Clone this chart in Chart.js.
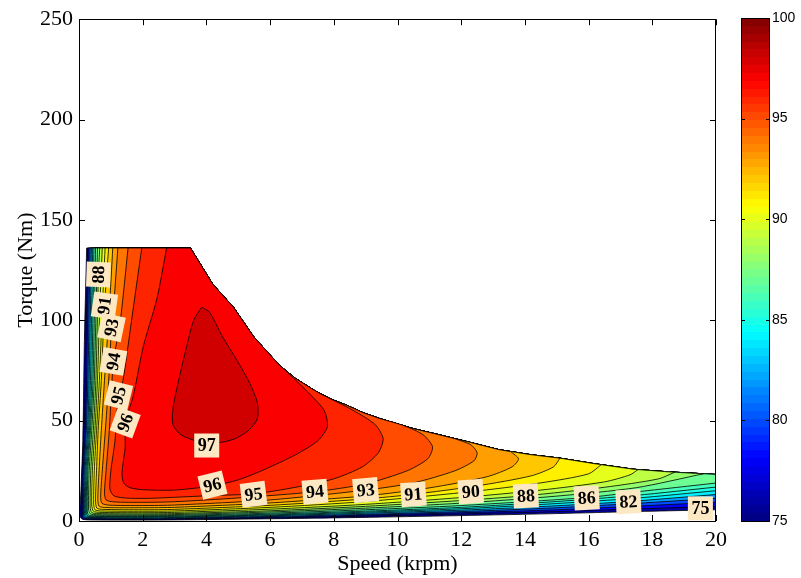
<!DOCTYPE html>
<html>
<head>
<meta charset="utf-8">
<script src="https://cdn.jsdelivr.net/npm/chart.js@4.4.0/dist/chart.umd.min.js"></script>
<style>
  html, body { margin: 0; padding: 0; background: #fff; }
  #wrap { position: relative; width: 801px; height: 578px; }
  #map { position: absolute; left: 0; top: 0; }
  #bar { position: absolute; left: 725px; top: 0; }
</style>
</head>
<body>
<div id="wrap">
  <canvas id="map" width="801" height="578"></canvas>
  <canvas id="bar" width="76" height="578"></canvas>
</div>
<script>
// operating limit (speed krpm, torque Nm)
const envelope = [[3.5,136],[4.2,118],[4.85,106.5],[5.5,91.5],[6.3,77.5],[6.8,71],[7.4,65],[7.9,60.8],[8.4,57.7],[8.9,54.1],[9.45,51],[10.5,46],[11.3,43],
  [12.2,39.5],[13.2,35.5],[14.2,33],[15.1,31.3],[16.2,28.5],[17.4,25.8],[18.5,24.5],[20,23.2]];

// efficiency contour lines (%), each from the top edge round to where it leaves the map
const c75 = [[0.24,136],[0.17,90],[0.12,40],[0.06,15],[0.03,6],[0.04,2],[0.12,0.8],[0.5,0.5],[2,0.45],[3,0.55],[6,1.1],[9,1.8],[12,2.7],[15,3.7],[17.5,4.7],[20,5.6]];
const c76 = [[0.27,136],[0.2,70],[0.16,45],[0.1,25],[0.08,2.2],[0.12,1.1],[0.2,0.9],[2,0.8],[3,0.9],[6,1.5],[9,2.4],[12,3.5],[15,4.7],[17.5,6.0],[20,7.3]];
const c78 = [[0.31,136],[0.24,70],[0.2,45],[0.13,25],[0.11,2.6],[0.15,1.4],[0.25,1.15],[2,1.05],[3,1.15],[6,1.8],[9,2.9],[12,4.1],[15,5.6],[17.5,7.4],[20,9.4]];
const c80 = [[0.35,136],[0.28,70],[0.23,45],[0.16,25],[0.14,3],[0.18,1.7],[0.3,1.4],[2,1.3],[3,1.4],[6,2.2],[9,3.3],[12,4.7],[15,6.6],[17.5,8.8],[20,11.3]];
const c82 = [[0.39,136],[0.32,70],[0.27,45],[0.19,25],[0.17,3.5],[0.21,2.0],[0.35,1.7],[2,1.6],[3,1.75],[6,2.6],[9,3.9],[12,5.4],[15,7.6],[17.25,9.7],[20,13.2]];
const c84 = [[0.43,136],[0.36,70],[0.3,45],[0.22,25],[0.2,4],[0.24,2.3],[0.4,2.0],[2,1.9],[3,2.05],[6,3.0],[9,4.4],[12,6.1],[15,8.7],[17.5,11.4],[20,15.1]];
const c85 = [[0.47,136],[0.4,70],[0.33,45],[0.25,25],[0.23,4.5],[0.27,2.6],[0.45,2.3],[2,2.2],[3,2.35],[6,3.4],[9,4.9],[12,6.8],[15,9.7],[17.5,12.8],[20,16.9]];
const c86 = [[0.52,136],[0.44,70],[0.36,45],[0.28,25],[0.26,5],[0.3,3.0],[0.5,2.65],[2,2.6],[3,2.75],[6,3.9],[9,5.6],[12,7.7],[15.94,11.7],[17.5,14.5],[20,18.9]];
const c87 = [[0.58,136],[0.48,70],[0.4,45],[0.32,25],[0.3,6],[0.35,3.6],[0.55,3.15],[2,3.05],[3,3.2],[6,4.5],[9,6.4],[12,8.9],[15,12.4],[17.5,16.6],[19.6,23.5]];
const c88 = [[0.65,136],[0.61,123],[0.53,70],[0.45,45],[0.37,25],[0.35,7],[0.4,4.2],[0.6,3.7],[2,3.55],[3,3.7],[6,5.1],[9,7.3],[12,10.2],[14.03,12.6],[16.5,16.8],[18.2,21],[18.7,24.3]];
const c89 = [[0.73,136],[0.65,105],[0.58,70],[0.5,45],[0.42,25],[0.4,8],[0.45,4.9],[0.65,4.3],[2,4.15],[3,4.3],[6,5.9],[9,8.3],[12,11.7],[14.5,15.4],[16.5,19.5],[17.3,23],[17.55,25.6]];
const c90 = [[0.82,136],[0.73,105],[0.64,70],[0.55,45],[0.48,25],[0.46,9],[0.5,5.6],[0.7,5.0],[2,4.85],[3,5.0],[6,6.8],[9,9.7],[12.3,14.6],[14.5,19],[16,23.5],[16.4,28.1]];
const c91 = [[0.93,136],[0.8,107.4],[0.7,70],[0.6,45],[0.55,25],[0.52,10],[0.56,6.4],[0.75,5.8],[2,5.6],[3,5.8],[6,7.8],[9,11],[10.5,13.3],[12.5,17.5],[14.2,22.5],[14.9,27],[15.1,31.3]];
const c92 = [[1.06,136],[0.95,105],[0.8,70],[0.7,45],[0.63,25],[0.59,11],[0.63,7.4],[0.85,6.7],[2,6.6],[3,6.8],[6,9],[9,12.5],[11,16.5],[12.8,22],[13.6,27],[13.8,31],[13.55,34.6]];
const c93 = [[1.22,136],[1.1,110],[1.02,96.4],[0.95,75],[0.85,50],[0.73,25],[0.68,12],[0.72,8.8],[0.95,7.9],[2,7.7],[3,7.95],[6,10.5],[9.0,15.4],[10.5,19],[11.8,25],[12.4,30],[12.5,34],[12.3,38],[11.8,41]];
const c94 = [[1.54,136],[1.3,100],[1.08,79.5],[1.02,65],[0.95,45],[0.85,25],[0.8,14],[0.85,10.5],[1.1,9.5],[2,9.3],[3,9.6],[5,11.5],[7.41,14.6],[9,18.5],[10.3,25],[10.95,31],[11.1,37],[10.8,43],[10.2,47.5],[9.5,50.8]];
const c95 = [[1.97,136],[1.65,100],[1.38,70],[1.24,62.6],[1.13,40],[1.0,25],[0.97,16],[1.1,12.5],[1.5,11.4],[2.2,11.3],[3,11.8],[4.2,12.7],[5.48,13.5],[6.8,16.8],[8.0,21],[8.9,27],[9.4,34],[9.55,41],[9.3,48],[8.6,55.2],[7.6,63.2]];
const c96 = [[2.75,136],[2.45,111],[2.02,87],[1.7,62],[1.45,49],[1.45,37],[1.35,24],[1.4,19],[1.6,16.6],[2.0,15.6],[3.0,15.4],[4.19,17.5],[5.0,20.5],[5.8,25.5],[6.8,33],[7.5,40],[7.8,47],[7.7,55],[7.2,64],[6.45,75.5]];
const c97 = [[3.85,106.5],[4.1,104],[4.5,92],[5.0,79],[5.35,69],[5.6,59],[5.6,51],[5.35,45.5],[4.9,41],[4.3,38.8],[3.7,39.8],[3.2,43],[2.95,48],[2.95,56],[3.1,68],[3.35,85],[3.6,100],[3.85,106.5]];

const levels = [75, 76, 78, 80, 82, 84, 85, 86, 87, 88, 89, 90, 91, 92, 93, 94, 95, 96, 97];
const contourLines = [c75, c76, c78, c80, c82, c84, c85, c86, c87, c88, c89, c90, c91, c92, c93, c94, c95, c96, c97];

// inline contour labels
const labelText   = ['88','91','93','94','95','96','97','96','95','94','93','91','90','88','86','82','75'];
const labelSpeed  = [0.61, 0.8, 1.02, 1.08, 1.24, 1.45, 4.01, 4.19, 5.48, 7.41, 9.0, 10.5, 12.3, 14.03, 15.94, 17.25, 19.51];
const labelTorque = [122.8, 107.4, 96.4, 79.5, 62.6, 49, 37.6, 17.9, 13.3, 14.6, 15.4, 13.3, 14.6, 12.5, 11.5, 9.6, 6.3];
const labelAngle  = [-88, -82, -78, -80, -76, -70, 0, -14, -7, -5, -5, -4, -4, -3, -3, -3, 0];

const colorMin = 75, colorMax = 100;
const colorTicks = [75, 80, 85, 90, 95, 100];

// matlab style jet colormap
function jet(t) {
  const c = v => Math.round(255 * Math.max(0, Math.min(1, v)));
  return 'rgb(' + c(1.5 - Math.abs(4 * t - 3)) + ',' + c(1.5 - Math.abs(4 * t - 2)) + ',' + c(1.5 - Math.abs(4 * t - 1)) + ')';
}

// close a contour along the operating limit so it can be filled.
// doubled points keep the corners sharp when the line is smoothed
function closeShape(line) {
  const first = line[0], last = line[line.length - 1];
  if (first[0] === last[0] && first[1] === last[1]) return line;
  const back = envelope.filter(p => p[0] < last[0] || (p[0] === last[0] && p[1] > last[1])).reverse();
  const edge = [];
  back.forEach(p => edge.push(p, p));
  return [first].concat(line, [last], edge, [first]);
}

const datasets = levels.map((lv, i) => {
  const upper = i < levels.length - 1 ? levels[i + 1] : 98;
  return {
    data: closeShape(contourLines[i]).map(p => ({ x: p[0], y: p[1] })),
    showLine: true,
    fill: 'shape',
    backgroundColor: jet((upper - colorMin) / (colorMax - colorMin)),
    borderColor: '#000',
    borderWidth: 0.8,
    pointRadius: 0,
    tension: 0.25,
    order: 100 - lv
  };
});

const serif = 'Liberation Serif';

// box with inward tick marks, matlab look
const framePlugin = {
  id: 'frame',
  afterDraw(chart) {
    const { ctx, chartArea: a, scales } = chart;
    ctx.save();
    ctx.strokeStyle = '#000';
    ctx.lineWidth = 1;
    ctx.strokeRect(Math.round(a.left) + 0.5, Math.round(a.top) + 0.5, Math.round(a.right - a.left) - 1, Math.round(a.bottom - a.top));
    ctx.beginPath();
    scales.x.ticks.forEach(t => {
      const px = Math.round(scales.x.getPixelForValue(t.value)) + 0.5;
      ctx.moveTo(px, a.bottom); ctx.lineTo(px, a.bottom - 6);
      ctx.moveTo(px, a.top); ctx.lineTo(px, a.top + 6);
    });
    scales.y.ticks.forEach(t => {
      const py = Math.round(scales.y.getPixelForValue(t.value)) + 0.5;
      ctx.moveTo(a.left, py); ctx.lineTo(a.left + 6, py);
      ctx.moveTo(a.right, py); ctx.lineTo(a.right - 6, py);
    });
    ctx.stroke();
    ctx.restore();
  }
};

const labelPlugin = {
  id: 'clabels',
  afterDatasetsDraw(chart) {
    const { ctx, scales: { x, y } } = chart;
    ctx.save();
    ctx.font = 'bold 18px "' + serif + '"';
    ctx.textAlign = 'center';
    ctx.textBaseline = 'middle';
    labelText.forEach((t, i) => {
      ctx.save();
      ctx.translate(x.getPixelForValue(labelSpeed[i]), y.getPixelForValue(labelTorque[i]));
      ctx.rotate(labelAngle[i] * Math.PI / 180);
      ctx.fillStyle = '#fde8c4';
      ctx.fillRect(-12.5, -12, 25, 24);
      ctx.fillStyle = '#000';
      ctx.fillText(t, 0, 1);
      ctx.restore();
    });
    ctx.restore();
  }
};

new Chart(document.getElementById('map'), {
  type: 'scatter',
  data: { datasets: datasets },
  options: {
    responsive: false,
    animation: false,
    layout: { padding: { left: 13, right: 85, top: 18, bottom: 0 } },
    plugins: { legend: { display: false }, tooltip: { enabled: false } },
    scales: {
      x: {
        type: 'linear', min: 0, max: 20,
        ticks: { stepSize: 2, padding: 6, color: '#000', font: { family: serif, size: 22 } },
        grid: { display: false, drawTicks: false },
        border: { display: false },
        title: { display: true, text: 'Speed (krpm)', color: '#000', font: { family: serif, size: 22 }, padding: { top: 0, bottom: 1 } },
        afterFit: s => { s.height = 57; }
      },
      y: {
        type: 'linear', min: 0, max: 250,
        ticks: { stepSize: 50, padding: 6, color: '#000', font: { family: serif, size: 22 } },
        grid: { display: false, drawTicks: false },
        border: { display: false },
        title: { display: true, text: 'Torque (Nm)', color: '#000', font: { family: serif, size: 22 }, padding: 0 },
        afterFit: s => { s.width = 66; }
      }
    }
  },
  plugins: [labelPlugin, framePlugin]
});

// colour bar
const barFrame = {
  id: 'barFrame',
  afterDraw(chart) {
    const { ctx, chartArea: a, scales: { y } } = chart;
    ctx.save();
    ctx.strokeStyle = '#000';
    ctx.lineWidth = 1;
    ctx.strokeRect(Math.round(a.left) + 0.5, Math.round(a.top) + 0.5, Math.round(a.right - a.left) - 1, Math.round(a.bottom - a.top));
    ctx.beginPath();
    colorTicks.slice(1, -1).forEach(v => {
      const py = Math.round(y.getPixelForValue(v)) + 0.5;
      ctx.moveTo(a.left, py); ctx.lineTo(a.left + 4, py);
      ctx.moveTo(a.right, py); ctx.lineTo(a.right - 4, py);
    });
    ctx.stroke();
    ctx.restore();
  }
};

new Chart(document.getElementById('bar'), {
  type: 'bar',
  data: {
    labels: [''],
    datasets: [{
      data: [[colorMin, colorMax]],
      barPercentage: 1,
      categoryPercentage: 1,
      borderWidth: 0,
      backgroundColor: c => {
        const a = c.chart.chartArea;
        if (!a) return null;
        const g = c.chart.ctx.createLinearGradient(0, a.bottom, 0, a.top);
        for (let i = 0; i < 64; i++) {
          const col = jet((i + 0.5) / 64);
          g.addColorStop(i / 64, col);
          g.addColorStop((i + 1) / 64, col);
        }
        return g;
      }
    }]
  },
  options: {
    responsive: false,
    animation: false,
    layout: { padding: { left: 16, right: 0, top: 18, bottom: 57 } },
    plugins: { legend: { display: false }, tooltip: { enabled: false } },
    scales: {
      x: { display: false },
      y: {
        position: 'right', min: colorMin, max: colorMax,
        afterBuildTicks: s => { s.ticks = colorTicks.map(v => ({ value: v })); },
        ticks: { padding: 2, color: '#000', font: { family: 'Liberation Sans', size: 14 } },
        grid: { display: false, drawTicks: false },
        border: { display: false },
        afterFit: s => { s.width = 31; }
      }
    }
  },
  plugins: [barFrame]
});
</script>
</body>
</html>
